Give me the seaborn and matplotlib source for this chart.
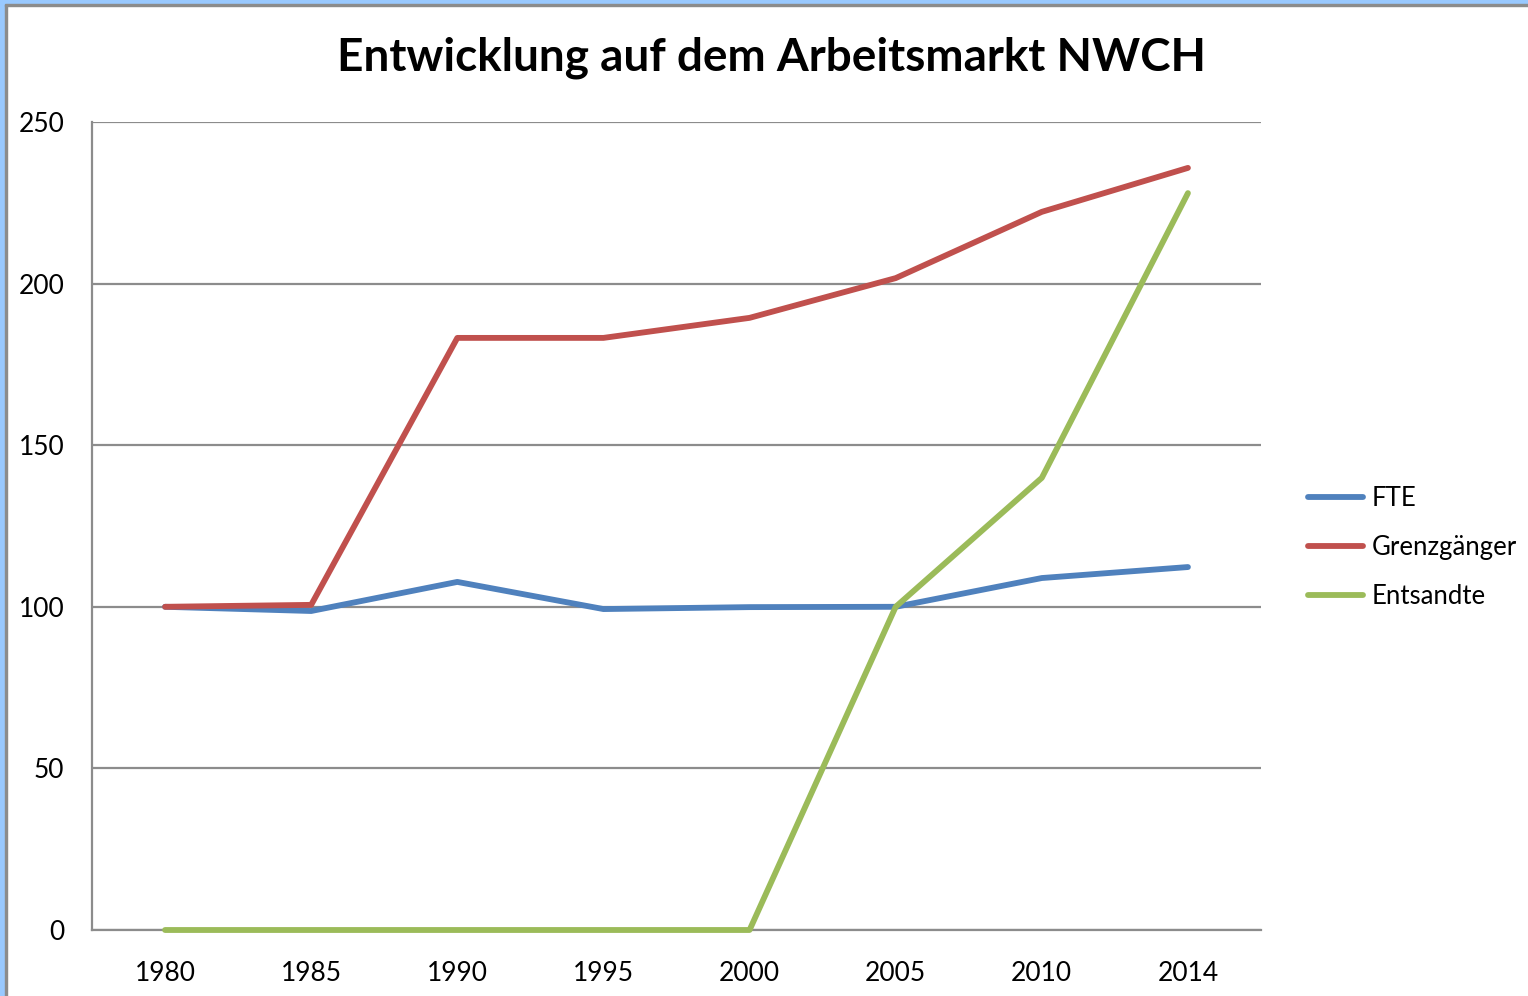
import numpy as np
import pandas as pd
import matplotlib
matplotlib.use("Agg")
import matplotlib.pyplot as plt
from matplotlib.patches import Rectangle
import seaborn as sns

years = ["1980", "1985", "1990", "1995", "2000", "2005", "2010", "2014"]
fte = [100, 98.7, 107.7, 99.3, 99.9, 100, 108.9, 112.3]
grenzgaenger = [100, 100.6, 183.2, 183.2, 189.4, 201.7, 222.2, 235.8]
entsandte = [0, 0, 0, 0, 0, 100, 139.9, 228.0]
series_names = ["FTE", "Grenzgänger", "Entsandte"]
colors = ["#4F81BD", "#C0504D", "#9BBB59"]

df = pd.DataFrame({
    "pos": list(range(len(years))) * 3,
    "value": fte + grenzgaenger + entsandte,
    "series": [s for s in series_names for _ in years],
})

sns.set_style("white")
plt.rcParams["font.family"] = ["Lato", "DejaVu Sans"]
plt.rcParams["text.color"] = "black"
plt.rcParams["xtick.labelcolor"] = "black"
plt.rcParams["ytick.labelcolor"] = "black"

fig = plt.figure(figsize=(15.28, 9.96), dpi=100)
ax = fig.add_axes([92 / 1528, 66 / 996, (1261 - 92) / 1528, (930 - 122) / 996])

sns.lineplot(data=df, x="pos", y="value", hue="series", hue_order=series_names,
             palette=colors, linewidth=4.2, ax=ax, legend=True)
for line in ax.lines:
    line.set_solid_capstyle("round")
    line.set_clip_on(False)
    line.set_zorder(5)

grid_c = "#8c8c8c"
ax.set_xlim(-0.5, len(years) - 0.5)
ax.set_ylim(0, 250)
ax.set_yticks(np.arange(0, 251, 50))
ax.yaxis.grid(True, color=grid_c, linewidth=1.6)
ax.set_axisbelow(True)

# tick marks between categories, labels at category centres
ax.set_xticks(np.arange(-0.5, len(years), 1.0))
ax.set_xticklabels([])
ax.set_xticks(np.arange(len(years)), minor=True)
ax.set_xticklabels(years, minor=True)
ax.tick_params(axis="x", which="major", length=10, width=1.6, color=grid_c, direction="out")
ax.tick_params(axis="x", which="minor", length=0, pad=22, labelsize=19)
ax.tick_params(axis="y", length=8, width=1.6, color=grid_c, direction="out", pad=12, labelsize=19)

for side in ["top", "right"]:
    ax.spines[side].set_visible(False)
for side in ["left", "bottom"]:
    ax.spines[side].set_color(grid_c)
    ax.spines[side].set_linewidth(1.6)

ax.set_xlabel("")
ax.set_ylabel("")

handles, labels = ax.get_legend_handles_labels()
for h in handles:
    h.set_solid_capstyle("round")
ax.legend(handles, labels, loc="center left", bbox_to_anchor=(1.02, 0.473),
          frameon=False, fontsize=18.5, handlelength=2.15, labelspacing=0.93,
          handletextpad=0.35)

fig.text(772 / 1528, 1 - 58 / 996, "Entwicklung auf dem Arbeitsmarkt NWCH",
         ha="center", va="center", fontsize=33, fontweight="bold", color="black")

# window frame edges
fig.patches.append(Rectangle((0, 0), 5 / 1528, 1, transform=fig.transFigure,
                             color="#99C9FF", zorder=10))
fig.patches.append(Rectangle((5 / 1528, 0), 2 / 1528, 1 - 4 / 996, transform=fig.transFigure,
                             color="#8c8c8c", zorder=10))
fig.patches.append(Rectangle((0, 1 - 4 / 996), 1, 4 / 996, transform=fig.transFigure,
                             color="#99C9FF", zorder=10))
fig.patches.append(Rectangle((5 / 1528, 1 - 6 / 996), 1, 2 / 996, transform=fig.transFigure,
                             color="#8c8c8c", zorder=10))

fig.savefig("out.png", dpi=100)
